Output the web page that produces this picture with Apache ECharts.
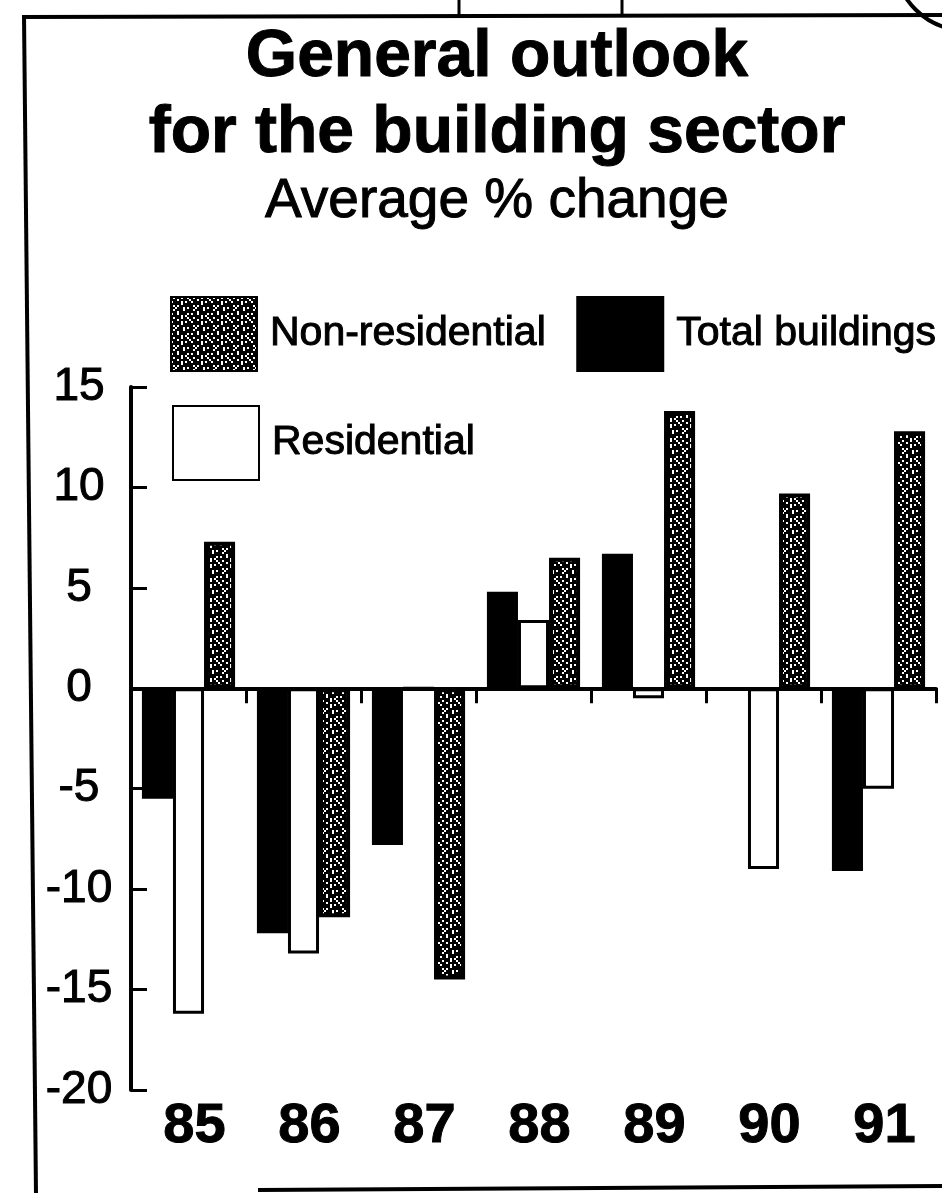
<!DOCTYPE html>
<html>
<head>
<meta charset="utf-8">
<title>General outlook for the building sector</title>
<script src="https://cdn.jsdelivr.net/npm/echarts@6/dist/echarts.min.js"></script>
<style>
  html, body { margin: 0; padding: 0; background: #fff; }
  #chart { width: 942px; height: 1193px; }
</style>
</head>
<body>
<div id="chart"></div>
<script>
// Average % change forecast, by year
const years = ['85', '86', '87', '88', '89', '90', '91'];
const totalBuildings = [-5.5, -12.2, -7.8, 4.8, 6.7, 0, -9.1];
const residential = [-16.2, -13.2, 0, 3.4, -0.5, -9.0, -5.0];
const nonResidential = [7.3, -11.4, -14.5, 6.5, 13.8, 9.7, 12.8];

// value axis range and step
const yMin = -20;
const yMax = 15;
const yStep = 5;

const FONT = "'Liberation Sans', Arial, Helvetica, sans-serif";
// a slight ink spread on all printed text
const INK = { textBorderColor: '#000', textBorderWidth: 1 };

// Dark stippled fill for the non-residential bars: '#' = ink, '.' = paper
const stippleRows = [
  '#.###.##.#',
  '###.#####.',
  '.####.#.##',
  '#####.####',
  '#.#.######',
  '##.###.#.#',
  '#.####.###',
  '###.######',
  '.##.####.#',
  '#####.#.##'
];
const stippleCell = 2; // px per pattern cell
function makeStipple(rows, cell) {
  const c = document.createElement('canvas');
  c.width = rows[0].length * cell;
  c.height = rows.length * cell;
  const ctx = c.getContext('2d');
  ctx.fillStyle = '#fff';
  ctx.fillRect(0, 0, c.width, c.height);
  ctx.fillStyle = '#000';
  rows.forEach((row, y) => {
    for (let x = 0; x < row.length; x++) {
      if (row[x] === '#') ctx.fillRect(x * cell, y * cell, cell, cell);
    }
  });
  return c;
}
const stipple = makeStipple(stippleRows, stippleCell);

const chart = echarts.init(document.getElementById('chart'), null, { renderer: 'canvas' });

const legendText = Object.assign({ fontFamily: FONT, fontSize: 41, color: '#000', padding: [0, 0, 0, 8] }, INK);

chart.setOption({
  animation: false,
  backgroundColor: '#fff',
  title: {
    text: 'General outlook\nfor the building sector',
    subtext: 'Average % change',
    left: 497,
    top: 20,
    textAlign: 'center',
    padding: 0,
    itemGap: 0,
    textStyle: Object.assign({ fontFamily: FONT, fontSize: 66, fontWeight: 'bold', lineHeight: 76, color: '#000' }, INK),
    subtextStyle: Object.assign({ fontFamily: FONT, fontSize: 55, lineHeight: 60, color: '#000' }, INK)
  },
  legend: [
    {
      data: ['Non-residential', 'Total buildings'],
      left: 170,
      top: 296,
      padding: 0,
      itemWidth: 86,
      itemHeight: 74,
      itemGap: 30,
      selectedMode: false,
      icon: 'rect',
      textStyle: legendText
    },
    {
      data: ['Residential'],
      left: 172,
      top: 405,
      padding: 0,
      itemWidth: 86,
      itemHeight: 74,
      selectedMode: false,
      icon: 'rect',
      textStyle: legendText
    }
  ],
  grid: { left: 131, right: 6, top: 387, bottom: 103, containLabel: false },
  xAxis: [
    {
      type: 'category',
      data: years,
      position: 'bottom',
      axisLine: { onZero: true, lineStyle: { color: '#000', width: 4 } },
      axisTick: { show: true, length: 15, lineStyle: { color: '#000', width: 3 } },
      axisLabel: { show: false },
      splitLine: { show: false }
    },
    {
      type: 'category',
      data: years,
      position: 'bottom',
      axisLine: { show: false, onZero: false },
      axisTick: { show: false },
      splitLine: { show: false },
      axisLabel: Object.assign({
        fontFamily: FONT,
        fontSize: 56,
        fontWeight: 'bold',
        color: '#000',
        margin: 9,
        padding: [0, 0, 0, 12]
      }, INK)
    }
  ],
  yAxis: {
    type: 'value',
    min: yMin,
    max: yMax,
    interval: yStep,
    axisLine: { show: true, lineStyle: { color: '#000', width: 4 } },
    axisTick: { show: true, inside: true, length: 16, lineStyle: { color: '#000', width: 3 } },
    splitLine: { show: false },
    axisLabel: Object.assign({ fontFamily: FONT, fontSize: 46, color: '#000', align: 'center', margin: 52 }, INK)
  },
  series: [
    {
      name: 'Total buildings',
      type: 'bar',
      data: totalBuildings,
      barGap: '0%',
      barCategoryGap: '19%',
      itemStyle: { color: '#000', borderColor: '#000', borderWidth: 2 }
    },
    {
      name: 'Residential',
      type: 'bar',
      data: residential,
      barGap: '0%',
      barCategoryGap: '19%',
      itemStyle: { color: '#fff', borderColor: '#000', borderWidth: 3 }
    },
    {
      name: 'Non-residential',
      type: 'bar',
      data: nonResidential,
      barGap: '0%',
      barCategoryGap: '19%',
      itemStyle: { color: { image: stipple, repeat: 'repeat' }, borderColor: '#000', borderWidth: 4 }
    }
  ],
  graphic: [
    // panel frame
    { type: 'line', shape: { x1: 22, y1: 17, x2: 942, y2: 15 }, style: { stroke: '#000', lineWidth: 4 } },
    { type: 'line', shape: { x1: 24, y1: 15, x2: 36, y2: 1193 }, style: { stroke: '#000', lineWidth: 4 } },
    { type: 'line', shape: { x1: 258, y1: 1190, x2: 942, y2: 1186 }, style: { stroke: '#000', lineWidth: 4 } },
    // dividers of the neighbouring panel above
    { type: 'line', shape: { x1: 459, y1: 0, x2: 459, y2: 16 }, style: { stroke: '#000', lineWidth: 3 } },
    { type: 'line', shape: { x1: 622, y1: 0, x2: 622, y2: 16 }, style: { stroke: '#000', lineWidth: 3 } },
    { type: 'arc', shape: { cx: 965, cy: -40, r: 70, startAngle: Math.PI * 0.5, endAngle: Math.PI * 1.05 }, style: { stroke: '#000', lineWidth: 4, fill: null } }
  ]
});
</script>
</body>
</html>
